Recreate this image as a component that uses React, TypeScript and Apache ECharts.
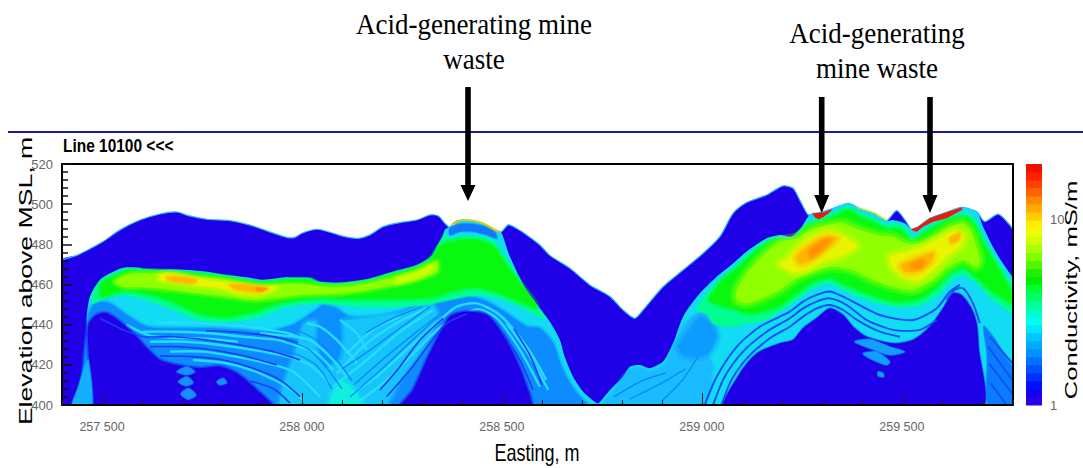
import React, { useEffect, useRef } from "react";
import * as echarts from "echarts";

type P = [number, number];

const eastingMajorTicks = [257500, 258000, 258500, 259000, 259500];
const elevationMin = 400;
const elevationMax = 520;
const eastingMin = 257400;
const eastingMax = 259778;

const BLUE = "#2000e6";

const surface: P[] = [[257400,472.2],[257437,474.5],[257457,476.4],[257503,481.4],[257545,487.2],[257595,492.1],[257645,495.1],[257687,496.1],[257716,494.3],[257762,492.5],[257820,491.8],[257870,489.6],[257912,486.7],[257962,483.5],[257982,483.5],[258000,485.5],[258037,487.5],[258070,486],[258107,483.8],[258141,483],[258170,484.7],[258203,488.8],[258245,490.8],[258287,492.1],[258320,494.6],[258341,494.1],[258357,490.5],[258370,488.5],[258378,490.5],[258395,492.1],[258428,491.8],[258457,490.1],[258486,486.8],[258499,486.3],[258516,489.7],[258536,488],[258562,484.7],[258595,479.7],[258620,474.5],[258670,468.1],[258720,459.8],[258770,454],[258803,447.3],[258832,443.2],[258853,447.3],[258903,458.9],[258953,467.2],[259003,475.5],[259045,483.8],[259078,495.4],[259112,500.8],[259162,504.6],[259203,509.1],[259228,507.9],[259245,502],[259266,494.6],[259278,495.4],[259295,495.8],[259324,497.6],[259366,500.4],[259395,497.9],[259432,495.4],[259462,491.8],[259487,496.8],[259508,492.1],[259524,487.6],[259541,488.8],[259570,493],[259612,496],[259649,498.4],[259687,496.3],[259707,491.3],[259741,495],[259770,489.6],[259782,486]];
const surfaceFill: P[] = [...surface, [259782,398],[257400,398]];

const conductorEnvelope: P[] = [[257478,398],[257466,422.4],[257462,444],[257470,454],[257495,462.3],[257520,465.6],[257553,468.4],[257595,468.4],[257612,467.2],[257670,467.6],[257737,466.9],[257762,466.4],[257812,464.7],[257862,463.6],[257903,462.3],[257962,463.6],[257995,463],[258045,461.4],[258095,460.9],[258162,462.6],[258228,466.4],[258287,469.7],[258328,474.7],[258349,482.2],[258357,487.2],[258368,488.8],[258378,490.1],[258395,491.8],[258428,491.8],[258457,490.1],[258486,486.8],[258497,486.3],[258503,483.8],[258520,473.9],[258561,457.3],[258620,441.5],[258645,432.4],[258657,424],[258678,414.1],[258703,406.6],[258732,401.6],[258741,400.8],[258770,407.5],[258803,414],[258820,419],[258845,419.9],[258870,418.3],[258903,421.6],[258928,430.7],[258953,444],[258995,455.6],[259037,463.9],[259078,470.5],[259112,476.4],[259162,483],[259195,484.7],[259228,483.8],[259245,487.1],[259266,493.8],[259278,495.4],[259295,495.8],[259324,497.6],[259366,500.4],[259395,497.9],[259432,495.4],[259462,491.8],[259478,492.1],[259507,490.5],[259524,487.6],[259541,488.8],[259570,493],[259612,496],[259649,498.4],[259687,496.3],[259703,488.8],[259737,475.5],[259776,463.9],[259782,463],[259782,398]];

const leftMidBlue: P[] = [[257466,444],[257482,450.6],[257520,450.6],[257562,444.8],[257612,439],[257687,438.2],[257770,438.2],[257853,437.4],[257912,436.5],[257978,439.9],[258012,444],[258053,449],[258087,447.3],[258120,444],[258178,444],[258245,446.5],[258312,451.5],[258362,452.3],[258412,454],[258462,451.5],[258512,445.7],[258562,439],[258595,438.2],[258628,430.7],[258649,419],[258670,410.8],[258695,404.2],[258720,398],[257478,398]];
const centerLight: P[] = [[257950,398],[257990,430],[258010,441],[258095,442],[258180,444],[258250,446],[258320,451],[258340,444],[258300,428],[258250,414],[258195,398]];
const centerMidPatch: P[] = [[258048,449],[258090,447],[258095,425],[258060,420],[258040,432]];
const leftCoreBlue: P[] = [[257477,398],[257468,422.4],[257466,439.8],[257487,444.8],[257512,445.7],[257545,441.5],[257582,434.9],[257612,428.2],[257645,422.4],[257687,419.9],[257745,418.3],[257795,419.1],[257837,415.8],[257878,409.1],[257928,398]];
const domeCoreBlue: P[] = [[258245,398],[258278,407.5],[258312,422.4],[258345,435.7],[258370,444],[258412,446.5],[258462,444.8],[258495,437.4],[258528,425.7],[258553,414.1],[258570,398]];
const leftWedge: P[] = [[257424,398],[257441,409.1],[257455,418.3],[257466,422.4],[257474,398]];
const centerBright: P[] = [[258070,398],[258082,407.5],[258103,411.6],[258128,407.5],[258153,398]];
const chevronsLeft: P[][] = [
  [[257687,416.6],[257712,419.1],[257732,416.6],[257712,415]],
  [[257691,411.6],[257712,414.1],[257728,411.1],[257710,409.5]],
  [[257697,405.5],[257716,408.3],[257735,405],[257716,402.8]],
  [[257787,411.6],[257803,413.3],[257812,411.1],[257795,410]],
];

const leftSpring: P[] = [[257474,454],[257482,458.1],[257499,462.3],[257528,465.3],[257562,467.7],[257595,467.7],[257670,466.9],[257745,466],[257812,464.2],[257895,461.8],[257962,463.1],[258020,463.1],[258045,460.9],[258095,460.4],[258162,462.1],[258228,465.9],[258287,469.2],[258324,473.9],[258345,481.4],[258357,484.7],[258370,483],[258395,483.8],[258445,483.8],[258478,482.2],[258495,477.2],[258520,470.6],[258561,456.5],[258607,443.2],[258545,449],[258495,453.1],[258437,454.8],[258387,453.1],[258328,450.6],[258245,449],[258162,449],[258103,449.8],[258037,450.6],[257962,449],[257895,444],[257812,441.5],[257745,442.3],[257670,448.1],[257612,452.3],[257553,454.8],[257503,453.1],[257478,450.6]];
const leftGreen: P[] = [[257499,460.6],[257528,463.6],[257562,466.6],[257595,466.6],[257670,466.1],[257745,464.9],[257812,463.3],[257895,460.6],[257962,461.9],[258020,461.9],[258045,459.9],[258095,459.4],[258162,461.1],[258228,464.9],[258287,468.2],[258324,472.5],[258345,478.9],[258362,480.5],[258403,482.2],[258449,481.4],[258482,478],[258507,470.6],[258545,460.6],[258586,449],[258537,452.3],[258487,456.4],[258428,458.6],[258378,456.9],[258328,454],[258245,453],[258162,453],[258103,453],[258037,453.6],[257937,450.6],[257878,446.5],[257812,444],[257745,445.7],[257670,452.3],[257612,455.6],[257553,457.3],[257499,454]];
const leftLime: P[] = [[257532,461.4],[257562,464.8],[257595,465.6],[257670,465.3],[257745,463.6],[257812,462.3],[257895,459.3],[257962,460.3],[258020,459.8],[258078,458.6],[258162,460.3],[258228,463.6],[258287,466.9],[258324,470.6],[258338,471.4],[258337,466.4],[258287,462.3],[258228,459.8],[258162,457.3],[258095,455.6],[258037,455.1],[257995,454.8],[257928,453.1],[257878,452.3],[257812,454],[257745,455.6],[257678,457.3],[257612,458.6],[257553,458.9]];
const leftYellow: P[] = [[257645,464.8],[257678,465.3],[257745,462.6],[257812,460.9],[257895,458.9],[257937,458.6],[257903,455.6],[257845,455.6],[257787,458.6],[257728,459.8],[257678,461.4],[257645,462.3]];
const dipYellowLime: P[] = [[258237,462.6],[258287,465.9],[258322,469.4],[258327,467.6],[258287,463.6],[258237,460.6]];
const leftOrangeA: P[] = [[257662,463.6],[257687,463.9],[257737,462.3],[257728,460.6],[257687,461.4],[257666,462.3]];
const leftOrangeB: P[] = [[257820,459.8],[257862,459.8],[257916,458.1],[257895,456.3],[257853,456.9],[257828,458.1]];
const leftOrangeCore: P[] = [[257887,458.3],[257910,457.9],[257903,456.8],[257888,457.1]];
const domeTopBlue: P[] = [[258370,488],[258395,490.1],[258428,490.1],[258457,488.8],[258482,486.3],[258487,483],[258462,484.7],[258428,486.3],[258395,486.3],[258370,484.7]];

const rightLow: P[] = [[258749,398],[258782,407.5],[258816,416.6],[258845,418.3],[258870,416.6],[258907,419.9],[258932,429.8],[258962,441.5],[259003,445.6],[259037,437.4],[259012,425.7],[259028,419],[258995,398]];
const rightMidPatch: P[] = [[258941,429],[258962,435.7],[258995,444],[259020,440.7],[259037,434],[259016,425.7],[258987,424],[258953,424.9]];
const rightCoreBlue: P[] = [[259057,398],[259095,415.8],[259137,425.7],[259195,430.7],[259228,432.4],[259253,438.2],[259287,443.2],[259320,448.1],[259353,444.8],[259378,439],[259412,434],[259478,430.7],[259528,432.4],[259570,439],[259603,448.1],[259628,455.6],[259649,454.8],[259674,448.1],[259687,440.7],[259692,429],[259697,398]];
const rightEdgeMid: P[] = [[259718,398],[259713,425.7],[259705,439],[259728,434],[259776,419],[259782,419],[259782,398]];
const chevronsRight: P[][] = [
  [[259382,431.5],[259420,432.7],[259470,429],[259507,426.5],[259470,424.9],[259420,428.2]],
  [[259403,425.7],[259437,426.5],[259470,421.6],[259462,419.9],[259420,423.2]],
  [[259441,416.6],[259453,415.8],[259455,414.1],[259441,414.4]],
];

const rightSpring: P[] = [[258987,447.3],[259028,459],[259078,468],[259112,474.7],[259162,482.2],[259195,483.8],[259220,483],[259241,486.3],[259266,491.3],[259295,493],[259328,495.4],[259366,498.8],[259395,495.4],[259432,492.9],[259462,489.6],[259482,490.5],[259512,488],[259528,483.8],[259553,487.2],[259587,491.3],[259628,494.6],[259662,495.4],[259687,491.3],[259703,483.8],[259737,472.2],[259776,460.6],[259782,459],[259782,444],[259776,445.6],[259728,452.3],[259687,460.6],[259653,464.7],[259628,463.1],[259595,455.6],[259545,449.8],[259487,449],[259428,451.5],[259362,456.4],[259320,460.6],[259278,458.1],[259237,452.3],[259195,446.5],[259162,442.3],[259112,440.7],[259062,439],[259028,440.7],[259012,445.6]];
const rightGreen: P[] = [[259020,452.3],[259053,462.2],[259095,468.9],[259137,476.4],[259178,481.4],[259212,481.3],[259237,483.8],[259266,488.8],[259303,491.3],[259337,494.1],[259366,496.8],[259395,493.5],[259432,490.5],[259462,487.2],[259495,487.2],[259524,481.3],[259553,484.7],[259587,488.8],[259628,492.5],[259662,493],[259682,488.8],[259703,480.5],[259737,468.9],[259776,455.6],[259782,454],[259782,449.8],[259776,450.6],[259728,456.4],[259687,463.9],[259653,468.5],[259620,465.6],[259587,458.9],[259545,453.1],[259487,451.5],[259428,454.8],[259362,459.8],[259320,463.5],[259278,461.4],[259237,455.6],[259195,449.8],[259162,447.3],[259120,445.6],[259078,448.1],[259045,449.8]];
const rightLime: P[] = [[259087,457.3],[259112,465.6],[259145,473],[259178,478.9],[259195,481.3],[259237,483],[259270,487.2],[259312,489.6],[259353,490.5],[259395,487.2],[259437,484.7],[259478,483.8],[259512,480.5],[259545,480.5],[259587,484.7],[259620,488.8],[259653,490.5],[259674,486.3],[259687,478.9],[259695,472.2],[259687,468.9],[259653,472.2],[259612,468.1],[259578,462.2],[259528,457.3],[259478,458.9],[259428,462.2],[259378,467.2],[259328,468.9],[259287,467.2],[259237,463.1],[259195,457.3],[259162,454],[259112,450.6],[259087,452.3]];
const rightYellowA: P[] = [[259195,470.5],[259212,472.2],[259237,478],[259278,483.8],[259320,486.3],[259362,483],[259387,478.9],[259353,474.7],[259303,471.4],[259262,467.2],[259228,466.4]];
const rightYellowB: P[] = [[259470,473.9],[259503,475.5],[259545,478],[259587,482.2],[259628,486.3],[259655,484.7],[259645,478.9],[259612,473.9],[259578,467.2],[259537,462.2],[259503,463.9],[259478,468]];
const rightOrangeA: P[] = [[259237,473.9],[259270,479.7],[259312,483.8],[259337,483],[259303,476.4],[259266,471.4],[259245,470.5]];
const rightOrangeACore: P[] = [[259270,476.4],[259299,481.3],[259320,482.2],[259295,476.4],[259274,473.9]];
const rightOrangeB: P[] = [[259499,469.7],[259537,473],[259578,475.5],[259570,470.5],[259537,466.4],[259507,466.4]];
const rightOrangeBCore: P[] = [[259524,469.7],[259553,472.2],[259549,468.5],[259528,468]];
const rightOrangeSmall: P[] = [[259620,483],[259645,485.5],[259641,482.2],[259624,480.5]];
const wasteRedA: P[] = [[259276,495.4],[259303,495.9],[259327,497.6],[259320,496],[259303,493.5],[259291,492.5],[259282,493.5]];
const wasteRedB: P[] = [[259524,487.6],[259541,488.8],[259570,493],[259612,496],[259649,498.4],[259652,497.4],[259612,493],[259578,491.3],[259553,488.8],[259537,486.3],[259528,486.8]];
const wasteStripLeft: P[] = [[258374,489.5],[258395,491.8],[258428,491.8],[258457,490.1],[258486,486.8],[258497,486.3]];
const wasteStripRight: P[] = [[259387,498.4],[259432,495.4],[259462,491.8]];

const lightStripes: P[][] = [
  [[257603,436.5],[257687,436.5],[257770,435.7],[257853,434],[257937,432.4],[257995,429],[258037,425.7],[258078,417.4]],
  [[257620,431.5],[257712,431.5],[257795,429.9],[257878,427.4],[257962,424.1],[258020,419.9],[258070,410.8]],
  [[257670,426.6],[257753,426.6],[257837,424],[257912,420.8],[257978,416.6],[258045,404.2]],
  [[257728,422.4],[257812,420.8],[257895,415.8],[257962,409.1],[258003,402.5]],
  [[257895,435.7],[257978,434],[258020,432.4],[258070,424.1],[258112,414.1]],
  [[258012,440.7],[258045,439],[258087,432.4],[258137,420.8]],
  [[258095,442.3],[258137,435.7],[258162,427.4]],
  [[258103,402.5],[258187,414.1],[258270,429],[258345,442.3],[258387,449],[258437,450.6],[258495,444.8],[258562,429],[258611,412.5]],
  [[258137,400.8],[258212,412.5],[258287,427.4],[258353,439.8],[258437,447.7],[258487,443.2],[258545,427.4],[258595,409.1]],
  [[258078,409.1],[258162,422.4],[258245,436.5],[258328,447.3]],
  [[258087,415.8],[258162,430.7],[258237,440.7],[258312,448.1]],
  [[258112,425.7],[258178,437.4],[258245,444]],
  [[258512,440.7],[258570,424.1],[258616,407.5]],
  [[257640,441],[257720,441],[257800,440],[257880,438.5],[257960,436],[258000,433]],
  [[257560,440],[257620,434.5],[257680,433.5],[257760,433],[257840,431.5]],
];
const thinBlueStripes: P[][] = [
  [[258120,404],[258200,418],[258280,433],[258340,444]],
  [[258100,418],[258175,428],[258250,439],[258320,449]],
  [[258130,410],[258210,424],[258290,437],[258350,446]],
  [[257920,428],[257990,425],[258040,419],[258075,408]],
  [[257960,432],[258015,428],[258060,419],[258100,408]],
  [[257980,438],[258040,432],[258085,423],[258125,412]],
  [[258160,436],[258225,443],[258300,449]],
  [[258780,404],[258850,412],[258910,416]],
  [[258820,403],[258900,411],[258960,418]],
  [[258900,402],[258950,412],[258990,424]],
];
const darkStripes: P[][] = [
  [[257495,443.2],[257553,437.4],[257603,434],[257678,434],[257762,432.4],[257845,429.9],[257928,426.6],[257995,422.4]],
  [[257620,429],[257695,429],[257778,427.4],[257862,424.1],[257937,419.9]],
  [[257645,424.4],[257728,424.1],[257803,422.4],[257878,418.3],[257945,412.5],[257995,404.2]],
  [[257760,437],[257850,436],[257930,434],[257990,431]],
  [[257870,412],[257930,408],[257970,401]],
  [[258212,404.2],[258270,417.4],[258320,430.7],[258362,440.7],[258412,445.3]],
  [[258195,407.5],[258245,419.1],[258295,432.4],[258353,443.2]],
  [[258503,435.7],[258545,422.4],[258578,407.5]],
  [[258530,438],[258572,424],[258600,410]],
];
const concentricStripes: P[][] = [
  [[259049,400],[259074,412.5],[259116,424],[259170,433.2],[259220,439],[259253,444],[259287,448.1],[259320,449.8],[259353,447.3],[259395,441.5],[259445,436.5],[259495,434]],
  [[259028,400],[259057,414.1],[259103,426.6],[259162,436.5],[259220,443.2],[259253,448.1],[259287,451.5],[259320,453.1],[259362,449.8],[259412,442.3],[259478,437.4],[259545,437.4],[259587,442.3]],
  [[259007,400],[259037,414.1],[259087,429],[259145,439],[259220,446.5],[259253,451.5],[259287,454.8],[259320,456.5],[259362,453.1],[259445,444.8],[259528,442.3],[259587,448.1],[259620,456.4],[259645,459.8]],
  [[259612,452.3],[259632,457.3],[259653,458.1],[259678,450.6],[259695,440.7]],
  [[259716,429],[259776,412.5]],
  [[259718,420.8],[259776,405.8]],
  [[259722,410.8],[259762,400]],
  [[259720,434],[259776,420.8]],
];

const colorbarEdges = [1,1.105,1.22,1.35,1.49,1.65,1.82,2.01,2.22,2.46,2.71,3,3.31,3.66,4.05,4.47,4.94,5.46,6.03,6.67,7.37,8.14,9,9.95,11,12.2,13.4,14.9,16.4,18.1,20];
const colorbarColors = ["#2a00e6","#1400f0","#0010ff","#0030ff","#0050ff","#0070ff","#0090ff","#00aaff","#00c8ff","#00e6ff","#00ffee","#00ffc8","#00ff96","#00ff64","#00ff32","#00f000","#20f000","#55f500","#80ff00","#aaff00","#d0ff00","#f0ff00","#ffee00","#ffcc00","#ffaa00","#ff8c00","#ff6400","#ff4000","#ff2000","#f01000"];

type Layer = { pts: P[]; fill?: string; stroke?: string; width?: number; soft?: number; crisp?: boolean };
const fills = (pts: P[], fill: string, soft = 0): Layer => ({ pts, fill, soft });
const strokes = (list: P[][], stroke: string, width: number): Layer[] => list.map((pts) => ({ pts, stroke, width }));

const layers: Layer[] = [
  fills(surfaceFill, BLUE),
  { pts: surface, stroke: "#28b4ff", width: 1.2 },
  fills(conductorEnvelope, "#12dcf4"),
  fills(leftMidBlue, "#0c8cff", 2),
  fills(centerLight, "#16c4fa", 3),
  fills(centerMidPatch, "#0c90ff", 3),
  ...strokes(lightStripes, "#26dcff", 2.4),
  fills(leftCoreBlue, BLUE, 2),
  fills(domeCoreBlue, BLUE, 2),
  fills(leftWedge, "#12b0ff", 1),
  ...strokes(darkStripes, "#1c3cf2", 1.6),
  fills(centerBright, "#10f0e0", 4),
  ...chevronsLeft.map((c) => fills(c, "#1690ff", 1)),
  fills(rightLow, "#18bcff", 2),
  fills(rightMidPatch, "#0f9cff", 4),
  ...strokes(thinBlueStripes, "#0c80ff", 1.2),
  fills(rightCoreBlue, BLUE, 1),
  fills(rightEdgeMid, "#0a7cff", 1),
  ...strokes(concentricStripes, "#1050f4", 1.9),
  ...chevronsRight.map((c) => fills(c, "#12a0ff", 1)),
  fills(domeTopBlue, "#1478ff", 1),
  fills(leftSpring, "#00ff90", 1),
  fills(rightSpring, "#00ff90", 1),
  fills(leftGreen, "#08f810", 3),
  fills(rightGreen, "#08f810", 3),
  fills(leftLime, "#90ff00", 3),
  fills(rightLime, "#90ff00", 5),
  fills(dipYellowLime, "#c8ff00", 3),
  fills(leftYellow, "#e8f400", 3),
  fills(rightYellowA, "#e8f400", 5),
  fills(rightYellowB, "#e8f400", 5),
  fills(leftOrangeA, "#ffb800", 2),
  fills(leftOrangeB, "#ffb800", 2),
  fills(leftOrangeCore, "#ff9000", 1),
  fills(rightOrangeA, "#ffb400", 4),
  fills(rightOrangeB, "#ffb400", 4),
  fills(rightOrangeSmall, "#ffb400", 2),
  fills(rightOrangeACore, "#ff9400", 3),
  fills(rightOrangeBCore, "#ff9400", 3),
  { pts: wasteStripLeft, stroke: "#e8c800", width: 1.8 },
  { pts: wasteStripRight, stroke: "#d0ec00", width: 1.2 },
  { ...fills(wasteRedA, "#f01808"), crisp: true },
  { ...fills(wasteRedB, "#f01808"), crisp: true },
];

const spaced = (v: number) => {
  const s = String(v);
  return s.slice(0, 3) + " " + s.slice(3);
};
const SANS = '"Liberation Sans", sans-serif';

const arrow = (x: number, top: number, tip: number, headTop: number) => [
  { type: "rect", z: 200, shape: { x: x - 2.8, y: top, width: 5.6, height: headTop - top + 1 }, style: { fill: "#000" } },
  { type: "polygon", z: 200, shape: { points: [[x - 7.5, headTop], [x + 7.5, headTop], [x, tip]] }, style: { fill: "#000" } },
];
const label = (text: string, x: number, y: number, font: string, extra: any = {}) => ({
  type: "text", z: 200, x, y, ...extra,
  style: { text, font, fill: "#000", textAlign: "center", textVerticalAlign: "middle" },
});

export default function App() {
  const ref = useRef<HTMLDivElement>(null);
  useEffect(() => {
    const chart = echarts.init(ref.current!, undefined, { renderer: "svg" });
    const axisBase = { type: "value", min: eastingMin, max: eastingMax, z: 10, splitLine: { show: false } };
    chart.setOption({
      animation: false,
      backgroundColor: "#fff",
      grid: [
        { left: 62, top: 164, width: 951, height: 241 },
        { left: 1026, top: 164, width: 16, height: 241 },
      ],
      xAxis: [
        {
          ...axisBase, gridIndex: 0, interval: 100,
          axisLine: { show: true, lineStyle: { color: "#000", width: 2 } },
          axisTick: { show: true, inside: true, length: 5, lineStyle: { color: "#222", width: 1 } },
          axisLabel: { customValues: eastingMajorTicks, formatter: (v: number) => spaced(v), margin: 15, fontFamily: SANS, fontSize: 12.5, color: "#666" },
        },
        {
          ...axisBase, gridIndex: 0, position: "bottom",
          axisLine: { show: false },
          axisTick: { show: true, inside: true, length: 12, customValues: eastingMajorTicks, lineStyle: { color: "#222", width: 1 } },
          axisLabel: { show: false },
        },
        {
          ...axisBase, gridIndex: 0, position: "top",
          axisLine: { show: true, lineStyle: { color: "#000", width: 2 } },
          axisTick: { show: false }, axisLabel: { show: false },
        },
        { type: "value", gridIndex: 1, min: 0, max: 1, show: false },
      ],
      yAxis: [
        {
          type: "value", gridIndex: 0, min: elevationMin, max: elevationMax, interval: 20, z: 10,
          splitLine: { show: false },
          axisLine: { show: true, lineStyle: { color: "#000", width: 2 } },
          axisTick: { show: true, inside: true, length: 10, lineStyle: { color: "#111", width: 1.5 } },
          minorTick: { show: true, splitNumber: 5, length: 6, lineStyle: { color: "#111", width: 1.5 } },
          axisLabel: { margin: 9, fontFamily: SANS, fontSize: 13, color: "#666" },
        },
        {
          type: "value", gridIndex: 0, min: elevationMin, max: elevationMax, interval: 20, position: "right", z: 10,
          splitLine: { show: false },
          axisLine: { show: true, lineStyle: { color: "#000", width: 2 } },
          axisTick: { show: false }, axisLabel: { show: false },
        },
        {
          type: "log", gridIndex: 1, min: 1, max: 20, logBase: 10, position: "right",
          splitLine: { show: false }, axisLine: { show: false }, axisTick: { show: false },
          axisLabel: {
            margin: 8, fontFamily: SANS, fontSize: 13, color: "#666",
            formatter: (v: number) => (Math.abs(v - 1) < 1e-6 || Math.abs(v - 10) < 1e-6 ? String(Math.round(v)) : ""),
          },
        },
      ],
      series: [
        {
          type: "custom", xAxisIndex: 0, yAxisIndex: 0, clip: true, silent: true,
          data: layers.map((_, i) => [i]),
          renderItem: (p: any, api: any) => {
            const l = layers[p.dataIndex];
            const points = l.pts.map((q) => api.coord(q));
            if (l.stroke) {
              return { type: "polyline", shape: { points, smooth: 0.25 }, style: { fill: null, stroke: l.stroke, lineWidth: l.width } };
            }
            const smooth = l.crisp ? 0 : 0.25;
            const children: any[] = [];
            if (l.soft) {
              children.push({ type: "polygon", shape: { points, smooth }, style: { fill: "none", stroke: l.fill, lineWidth: l.soft * 2.4, opacity: 0.25, lineJoin: "round" } });
              children.push({ type: "polygon", shape: { points, smooth }, style: { fill: "none", stroke: l.fill, lineWidth: l.soft * 1.2, opacity: 0.4, lineJoin: "round" } });
            }
            children.push({ type: "polygon", shape: { points, smooth }, style: { fill: l.fill } });
            return { type: "group", children };
          },
        },
        {
          type: "custom", xAxisIndex: 3, yAxisIndex: 2, silent: true,
          data: colorbarColors.map((_, i) => [i]),
          renderItem: (p: any, api: any) => {
            const i = p.dataIndex;
            const a = api.coord([0, colorbarEdges[i]]);
            const b = api.coord([1, colorbarEdges[i + 1]]);
            return {
              type: "rect",
              shape: { x: a[0], y: b[1], width: b[0] - a[0], height: a[1] - b[1] + 0.5 },
              style: { fill: colorbarColors[i] },
            };
          },
        },
      ],
      graphic: [
        { type: "line", z: 150, shape: { x1: 8, y1: 132, x2: 1083, y2: 132 }, style: { stroke: "#1c1c9c", lineWidth: 2 } },
        ...arrow(468, 87, 201, 185),
        ...arrow(821.7, 97, 213, 195),
        ...arrow(930, 97, 213, 195),
        label("Acid-generating mine", 474, 24, '30px "Liberation Serif"', { scaleX: 0.9 }),
        label("waste", 474, 59, '30px "Liberation Serif"', { scaleX: 0.9 }),
        label("Acid-generating", 877, 33, '30px "Liberation Serif"', { scaleX: 0.9 }),
        label("mine waste", 877, 68, '30px "Liberation Serif"', { scaleX: 0.9 }),
        { type: "text", z: 200, x: 63, y: 146, scaleX: 0.86, style: { text: "Line 10100 <<<", font: `bold 18px ${SANS}`, fill: "#000", textAlign: "left", textVerticalAlign: "middle" } },
        label("Elevation above MSL, m", 25, 281, `19px ${SANS}`, { rotation: Math.PI / 2, scaleX: 1.4 }),
        label("Easting, m", 537, 453, `24px ${SANS}`, { scaleX: 0.75 }),
        label("Conductivity, mS/m", 1072, 290, `16px ${SANS}`, { rotation: Math.PI / 2, scaleX: 1.6 }),
      ],
    });
    return () => chart.dispose();
  }, []);
  return <div ref={ref} style={{ position: "fixed", left: 0, top: 0, width: 1083, height: 468 }} />;
}
